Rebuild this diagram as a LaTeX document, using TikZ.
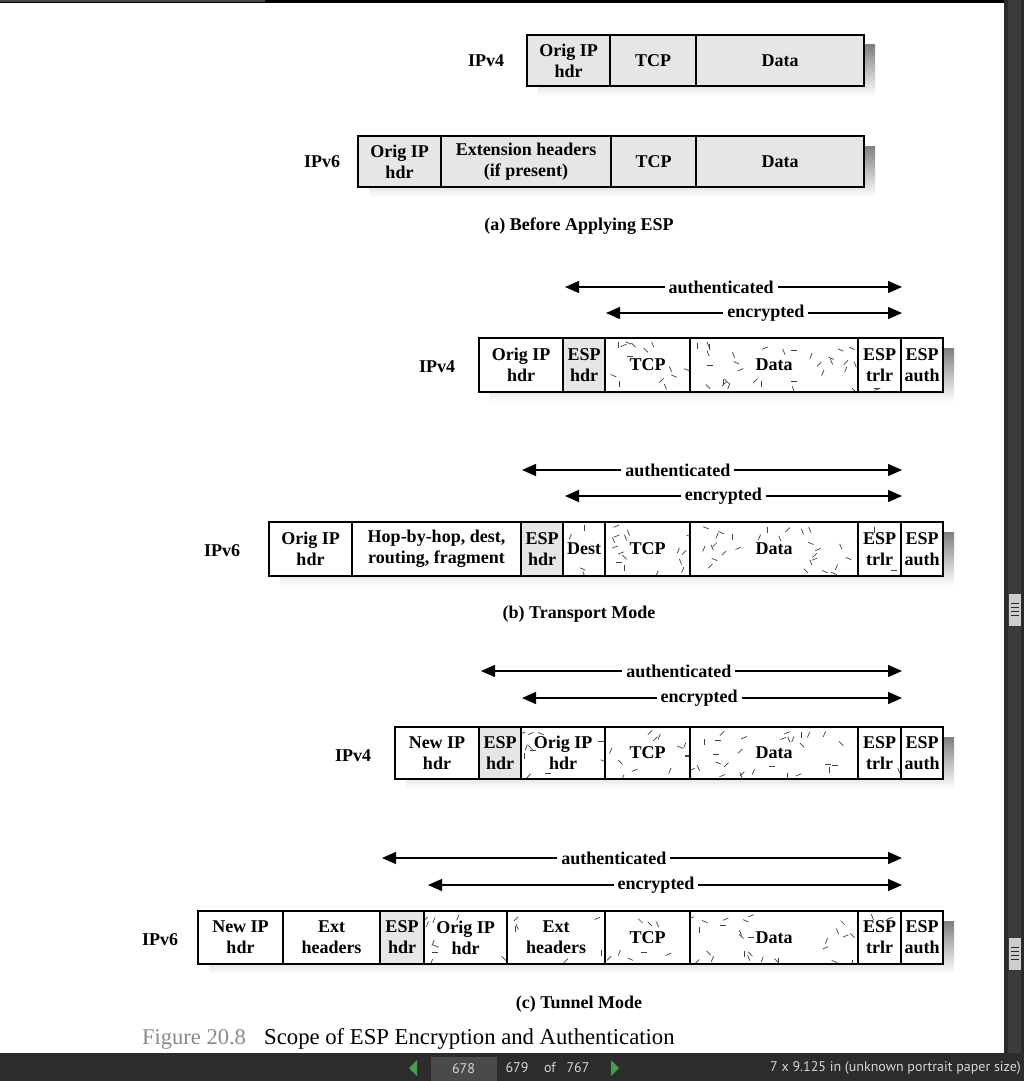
\documentclass[tikz,border=0pt]{standalone}
\usepackage{fontspec}
\setmainfont{Liberation Serif}
\newfontfamily\uifont{PT Sans}
\usepackage{tikz}
\usetikzlibrary{arrows.meta}
\usepackage{xcolor}
\definecolor{boxgrey}{HTML}{E6E6E6}
\definecolor{shade}{HTML}{939393}
\definecolor{barbg}{HTML}{2C2C2C}
\definecolor{uitext}{HTML}{D6D6D6}
\definecolor{figgrey}{HTML}{8A8A8A}
\definecolor{navgreen}{HTML}{43A047}
\definecolor{trackbg}{HTML}{3B3B3B}
\definecolor{trackedge}{HTML}{2A2A2A}
\definecolor{thumb}{HTML}{CDCDCD}
\definecolor{pagebox}{HTML}{4A4A4A}

% random strokes inside a cell: x1 x2 y1 y2 count text-halfwidth text-halfheight
\newcommand\speckle[7]{%
  \begin{scope}
    \clip (#1,#3) rectangle (#2,#4);
    \foreach \k in {1,...,#5}{%
      \pgfmathsetmacro\px{#1+3+rnd*(#2-#1-6)}%
      \pgfmathsetmacro\py{#3+3+rnd*(#4-#3-6)}%
      \pgfmathsetmacro\pa{int(rnd*8)*22.5}%
      \pgfmathtruncatemacro\keep{(abs(\px-(#1+#2)/2)<#6 && abs(\py-(#3+#4)/2)<#7) ? 0 : 1}%
      \ifnum\keep=1 \draw[black!75, line width=0.7] (\px,\py) -- ++(\pa:6);\fi
    }
  \end{scope}}

\begin{document}
\begin{tikzpicture}[x=1pt,y=-1pt]
\tikzstyle{cell}=[rectangle, draw, line width=2.8, inner sep=0, align=center, font=\fontsize{18}{21}\selectfont\bfseries]
\tikzstyle{grey}=[cell, fill=boxgrey]
\tikzstyle{ver}=[font=\fontsize{18}{21}\selectfont\bfseries]
\tikzstyle{span}=[{Triangle[length=14,width=12]}-{Triangle[length=14,width=12]}, line width=1.3]
\tikzstyle{tag}=[fill=white, inner sep=4, font=\fontsize{18}{21}\selectfont\bfseries]
\tikzstyle{ui}=[text=uitext, font=\uifont\fontsize{14}{16}\selectfont]
\pgfmathsetseed{42}

\useasboundingbox (0,0) rectangle (1024,1081);
\fill[white] (0,0) rectangle (1024,1081);

% viewer frame
\fill[black] (0,0) rectangle (1005,3);
\fill[pagebox] (0,0) rectangle (265,2);
\fill[trackedge] (1004,0) rectangle (1024,1053);
\fill[trackbg] (1008,0) rectangle (1021,1053);
\fill[thumb] (1009,594) rectangle (1021,626);
\fill[thumb] (1009,938) rectangle (1021,970);
\foreach \t in {603,607,611,615,947,951,955,959}
  \draw[trackedge, line width=0.8] (1011,\t) -- (1019,\t);
\fill[barbg] (0,1053) rectangle (1024,1081);

% (a) before applying ESP
\node[ver] (a4lbl) at (486,61) {IPv4};
\fill[shade] (538,45) rectangle (875,96);
\node[grey, minimum width=83, minimum height=51] (a4ip) at (568.5,60.5) {Orig IP\\hdr};
\node[grey, minimum width=86, minimum height=51] (a4tcp) at (653,60.5) {TCP};
\node[grey, minimum width=168, minimum height=51] (a4data) at (780,60.5) {Data};

\node[ver] (a6lbl) at (322,162) {IPv6};
\fill[shade] (369,146) rectangle (875,197);
\node[grey, minimum width=83, minimum height=51] (a6ip) at (399.5,161.5) {Orig IP\\hdr};
\node[grey, minimum width=170, minimum height=51] (a6ext) at (526,161.5) {Extension headers\\(if present)};
\node[grey, minimum width=85, minimum height=51] (a6tcp) at (653.5,161.5) {TCP};
\node[grey, minimum width=168, minimum height=51] (a6data) at (780,161.5) {Data};

\node[ver] (capa) at (579,226) {(a) Before Applying ESP};

% (b) transport mode, IPv4
\coordinate (b4a1) at (565,287); \coordinate (b4a2) at (902,287);
\coordinate (b4e1) at (606,313); \coordinate (b4e2) at (902,313);
\draw[span] (b4a1) -- node[tag, pos=0.463] (b4auth) {authenticated} (b4a2);
\draw[span] (b4e1) -- node[tag, pos=0.54] (b4enc) {encrypted} (b4e2);

\node[ver] (b4lbl) at (437,367) {IPv4};
\fill[shade] (490,348) rectangle (954,402);
\fill[white] (479,338) rectangle (943,392);
\speckle{605}{690}{338}{392}{18}{20}{13}
\speckle{690}{858}{338}{392}{36}{24}{13}
\speckle{858}{901}{338}{392}{9}{18}{20}
\node[cell, minimum width=84, minimum height=54] (b4ip) at (521,365) {Orig IP\\hdr};
\node[grey, minimum width=42, minimum height=54] (b4esp) at (584,365) {ESP\\hdr};
\node[cell, minimum width=85, minimum height=54] (b4tcp) at (647.5,365) {TCP};
\node[cell, minimum width=168, minimum height=54] (b4data) at (774,365) {Data};
\node[cell, minimum width=43, minimum height=54] (b4trlr) at (879.5,365) {ESP\\trlr};
\node[cell, minimum width=42, minimum height=54] (b4mac) at (922,365) {ESP\\auth};

% (b) transport mode, IPv6
\coordinate (b6a1) at (522,470); \coordinate (b6a2) at (902,470);
\coordinate (b6e1) at (565,496); \coordinate (b6e2) at (902,496);
\draw[span] (b6a1) -- node[tag, pos=0.41] (b6auth) {authenticated} (b6a2);
\draw[span] (b6e1) -- node[tag, pos=0.47] (b6enc) {encrypted} (b6e2);

\node[ver] (b6lbl) at (222,551) {IPv6};
\fill[shade] (280,532) rectangle (954,586);
\fill[white] (269,522) rectangle (943,576);
\speckle{563}{605}{522}{576}{9}{18}{13}
\speckle{605}{690}{522}{576}{18}{20}{13}
\speckle{690}{858}{522}{576}{36}{24}{13}
\speckle{858}{901}{522}{576}{9}{18}{20}
\node[cell, minimum width=83, minimum height=54] (b6ip) at (310.5,549) {Orig IP\\hdr};
\node[cell, minimum width=169, minimum height=54] (b6hop) at (436.5,549) {Hop-by-hop, dest,\\routing, fragment};
\node[grey, minimum width=42, minimum height=54] (b6esp) at (542,549) {ESP\\hdr};
\node[cell, minimum width=42, minimum height=54] (b6dest) at (584,549) {Dest};
\node[cell, minimum width=85, minimum height=54] (b6tcp) at (647.5,549) {TCP};
\node[cell, minimum width=168, minimum height=54] (b6data) at (774,549) {Data};
\node[cell, minimum width=43, minimum height=54] (b6trlr) at (879.5,549) {ESP\\trlr};
\node[cell, minimum width=42, minimum height=54] (b6mac) at (922,549) {ESP\\auth};

\node[ver] (capb) at (579,614) {(b) Transport Mode};

% (c) tunnel mode, IPv4
\coordinate (c4a1) at (481,671); \coordinate (c4a2) at (902,671);
\coordinate (c4e1) at (522,698); \coordinate (c4e2) at (902,698);
\draw[span] (c4a1) -- node[tag, pos=0.47] (c4auth) {authenticated} (c4a2);
\draw[span] (c4e1) -- node[tag, pos=0.466] (c4enc) {encrypted} (c4e2);

\node[ver] (c4lbl) at (353,756) {IPv4};
\fill[shade] (406,737) rectangle (954,789);
\fill[white] (395,727) rectangle (943,779);
\speckle{521}{605}{727}{779}{18}{30}{20}
\speckle{605}{690}{727}{779}{18}{20}{13}
\speckle{690}{858}{727}{779}{36}{24}{13}
\speckle{858}{901}{727}{779}{9}{18}{20}
\node[cell, minimum width=84, minimum height=52] (c4new) at (437,753) {New IP\\hdr};
\node[grey, minimum width=42, minimum height=52] (c4esp) at (500,753) {ESP\\hdr};
\node[cell, minimum width=84, minimum height=52] (c4ip) at (563,753) {Orig IP\\hdr};
\node[cell, minimum width=85, minimum height=52] (c4tcp) at (647.5,753) {TCP};
\node[cell, minimum width=168, minimum height=52] (c4data) at (774,753) {Data};
\node[cell, minimum width=43, minimum height=52] (c4trlr) at (879.5,753) {ESP\\trlr};
\node[cell, minimum width=42, minimum height=52] (c4mac) at (922,753) {ESP\\auth};

% (c) tunnel mode, IPv6
\coordinate (c6a1) at (382,858); \coordinate (c6a2) at (902,858);
\coordinate (c6e1) at (428,885); \coordinate (c6e2) at (902,885);
\draw[span] (c6a1) -- node[tag, pos=0.446] (c6auth) {authenticated} (c6a2);
\draw[span] (c6e1) -- node[tag, pos=0.481] (c6enc) {encrypted} (c6e2);

\node[ver] (c6lbl) at (160,940) {IPv6};
\fill[shade] (209,921) rectangle (954,974);
\fill[white] (198,911) rectangle (943,964);
\speckle{424}{507}{911}{964}{18}{30}{20}
\speckle{507}{605}{911}{964}{21}{35}{20}
\speckle{605}{690}{911}{964}{18}{20}{13}
\speckle{690}{858}{911}{964}{36}{24}{13}
\speckle{858}{901}{911}{964}{9}{18}{20}
\node[cell, minimum width=85, minimum height=53] (c6new) at (240.5,937.5) {New IP\\hdr};
\node[cell, minimum width=97, minimum height=53] (c6ext) at (331.5,937.5) {Ext\\headers};
\node[grey, minimum width=44, minimum height=53] (c6esp) at (402,937.5) {ESP\\hdr};
\node[cell, minimum width=83, minimum height=53] (c6ip) at (465.5,937.5) {Orig IP\\hdr};
\node[cell, minimum width=98, minimum height=53] (c6ext2) at (556,937.5) {Ext\\headers};
\node[cell, minimum width=85, minimum height=53] (c6tcp) at (647.5,937.5) {TCP};
\node[cell, minimum width=168, minimum height=53] (c6data) at (774,937.5) {Data};
\node[cell, minimum width=43, minimum height=53] (c6trlr) at (879.5,937.5) {ESP\\trlr};
\node[cell, minimum width=42, minimum height=53] (c6mac) at (922,937.5) {ESP\\auth};

\node[ver] (capc) at (579,1004) {(c) Tunnel Mode};

% figure caption
\node[anchor=west, inner sep=0, text=figgrey, font=\fontsize{22.5}{26}\selectfont] (fignum) at (142,1039) {Figure 20.8};
\node[anchor=west, inner sep=0, font=\fontsize{22.7}{26}\selectfont] (figtxt) at (264,1039) {Scope of ESP Encryption and Authentication};

% viewer status bar
\fill[navgreen] (417,1060) -- (409,1068) -- (417,1076) -- cycle;
\fill[navgreen] (611,1060) -- (619,1068) -- (611,1076) -- cycle;
\node[ui, draw=trackedge, fill=pagebox, minimum width=67, minimum height=26] (pgbox) at (463.5,1069) {678};
\node[ui] (pgcur) at (517,1068) {679};
\node[ui] (pgof) at (550,1068) {of};
\node[ui] (pgall) at (578,1068) {767};
\node[ui, anchor=east, inner sep=0] (pgsize) at (1021,1068) {7 x 9.125 in (unknown portrait paper size)};
\end{tikzpicture}
\end{document}
